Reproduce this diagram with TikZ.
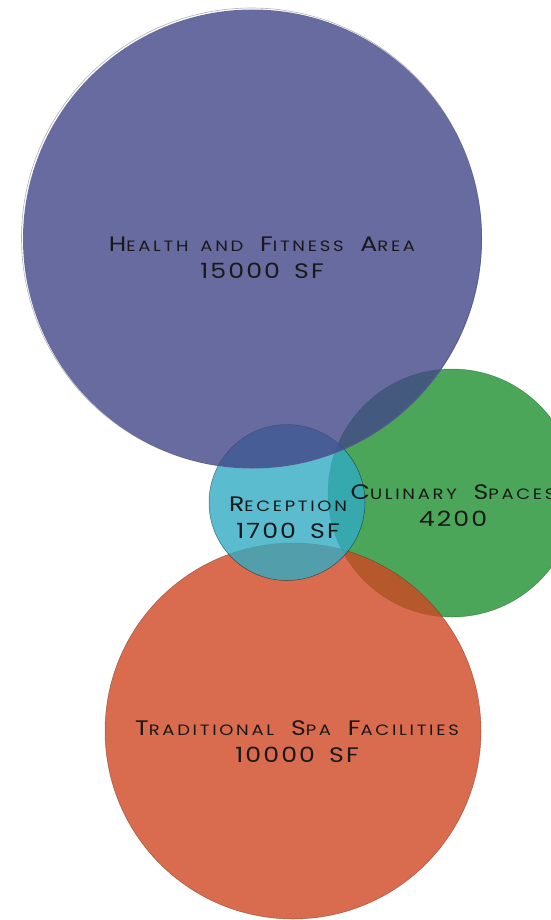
\documentclass[tikz,border=0pt]{standalone}
\usepackage{fontspec}
\newfontfamily\bubblefont[FakeStretch=1.2, LetterSpace=18, WordSpace=1.6]{Poppins}
\newfontfamily\numfont[FakeStretch=1.2, LetterSpace=10, WordSpace=1.6]{Poppins}
\newcommand{\smc}[1]{{\fontsize{15}{27}\selectfont #1}}
\definecolor{healthblue}{RGB}{66,70,136}
\definecolor{culinarygreen}{RGB}{31,144,49}
\definecolor{spared}{RGB}{208,70,34}
\definecolor{receptioncyan}{RGB}{50,171,196}
\tikzset{
  bubble/.style={fill opacity=0.8, draw opacity=0.5, line width=0.5pt},
  bubbletext/.style={font=\bubblefont\fontsize{21}{27}\selectfont, text=black!90, align=center}
}
\begin{document}
\begin{tikzpicture}[x=1pt,y=-1pt]
  \useasboundingbox (0,0) rectangle (550,920);
  % circles, bottom to top
  \filldraw[bubble, fill=culinarygreen, draw=culinarygreen!60!black] (452,493) circle (124);
  \filldraw[bubble, fill=spared, draw=spared!50!black] (293,731) circle (188);
  \filldraw[bubble, fill=receptioncyan, draw=black, draw opacity=0.5] (287,502.5) circle (78);
  \draw[gray!60, line width=0.6pt] (251.5,238) circle (230);
  \fill[bubble, fill=healthblue] (252.5,239) circle (229.5);
  % labels
  \node[bubbletext] (health) at (262,258) {H\smc{EALTH AND} F\smc{ITNESS} A\smc{REA}\\{\numfont 15000 SF}};
  \node[bubbletext] (reception) at (288,518) {R\smc{ECEPTION}\\{\numfont 1700 SF}};
  \node[bubbletext] (culinary) at (453,506) {C\smc{ULINARY} S\smc{PACES}\\{\numfont 4200}};
  \node[bubbletext] (spa) at (297,742) {T\smc{RADITIONAL} S\smc{PA} F\smc{ACILITIES}\\{\numfont 10000 SF}};
\end{tikzpicture}
\end{document}
